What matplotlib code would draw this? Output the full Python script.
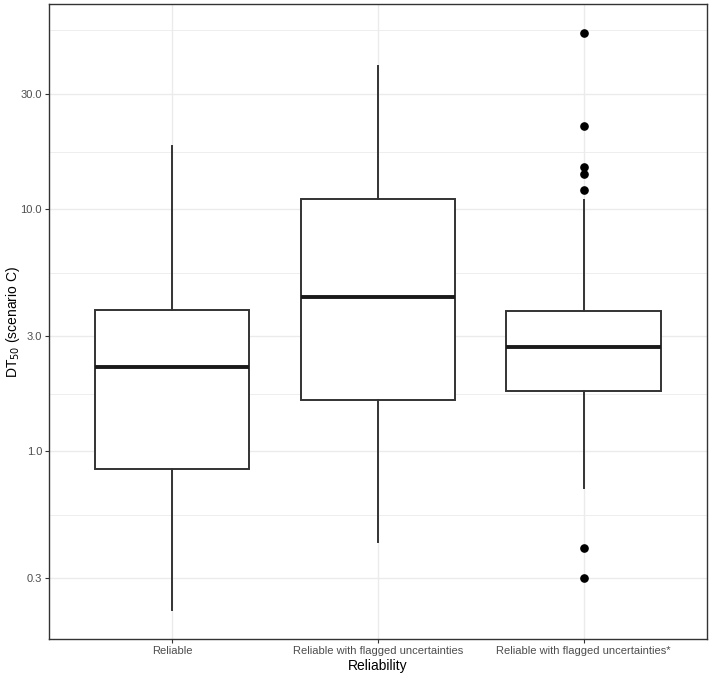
import numpy as np
import matplotlib
matplotlib.use("Agg")
import matplotlib.pyplot as plt
from matplotlib.ticker import FixedLocator, FixedFormatter, NullFormatter

plt.rcParams['font.family'] = ['Liberation Sans', 'DejaVu Sans']

# ----- valeurs -----
categories = ["Reliable", "Reliable with flagged uncertainties",
              "Reliable with flagged uncertainties*"]
whislo = [0.221, 0.423, 0.706]
q1 = [0.85, 1.63, 1.78]
med = [2.24, 4.35, 2.71]
q3 = [3.82, 11.0, 3.81]
whishi = [18.2, 38.9, 10.9]
outliers = [[], [], [53.5, 22.0, 15.0, 14.0, 12.0, 0.40, 0.30]]

y_breaks = [0.1, 0.3, 1.0, 3.0, 10.0, 30.0, 100.0]
y_labels = ["0.1", "0.3", "1.0", "3.0", "10.0", "30.0", "100.0"]

stats = []
for i in range(len(categories)):
    stats.append({"whislo": whislo[i], "q1": q1[i], "med": med[i],
                  "q3": q3[i], "whishi": whishi[i], "fliers": outliers[i]})

fig = plt.figure(figsize=(7.09, 6.75), dpi=100)
ax = fig.add_axes([0.069, 0.0533, 0.928, 0.9407])

pos = np.arange(1, len(categories) + 1)
ax.bxp(stats, positions=pos, widths=0.75, showcaps=False, patch_artist=True,
       boxprops=dict(facecolor="white", edgecolor="#333333", linewidth=1.4),
       whiskerprops=dict(color="#333333", linewidth=1.4),
       medianprops=dict(color="#1a1a1a", linewidth=2.8),
       flierprops=dict(marker="o", markerfacecolor="black", markeredgecolor="black",
                       markersize=5.2, linestyle="none"),
       zorder=3)

ax.set_yscale("log")
lo = np.log10(min(min(whislo), min(min(o) for o in outliers if o)))
hi = np.log10(max(max(whishi), max(max(o) for o in outliers if o)))
pad = 0.05 * (hi - lo)
ax.set_ylim(10 ** (lo - pad), 10 ** (hi + pad))
ax.set_xlim(0.4, len(categories) + 0.6)

# grille façon theme_bw (mineures = milieux en log entre les graduations)
lb = np.log10(y_breaks)
minor = [10 ** ((lb[i] + lb[i + 1]) / 2) for i in range(len(lb) - 1)]
ymin, ymax = ax.get_ylim()
minor = [m for m in minor if ymin * 1.1 < m < ymax]
ax.yaxis.set_major_locator(FixedLocator(y_breaks))
ax.yaxis.set_major_formatter(FixedFormatter(y_labels))
ax.yaxis.set_minor_locator(FixedLocator(minor))
ax.yaxis.set_minor_formatter(NullFormatter())
ax.set_xticks(pos)
ax.set_xticklabels(categories)

for b in y_breaks:
    ax.axhline(b, color="#EBEBEB", linewidth=1.0, zorder=0)
for m in minor:
    ax.axhline(m, color="#EBEBEB", linewidth=0.6, zorder=0)
for p in pos:
    ax.axvline(p, color="#EBEBEB", linewidth=1.0, zorder=0)

ax.tick_params(axis="both", which="major", length=3, width=0.8, color="#333333",
               labelsize=8, labelcolor="#4D4D4D", pad=2)
ax.tick_params(axis="y", which="minor", length=0)
for s in ax.spines.values():
    s.set_color("#333333")
    s.set_linewidth(1.0)
ax.set_ylim(ymin, ymax)

ax.set_xlabel("Reliability", fontsize=10, labelpad=2)
ax.set_ylabel("DT$_{50}$ (scenario C)", fontsize=10, va="center")
ax.yaxis.set_label_coords(-0.054, 0.5)

fig.savefig("out.png", dpi=100)
